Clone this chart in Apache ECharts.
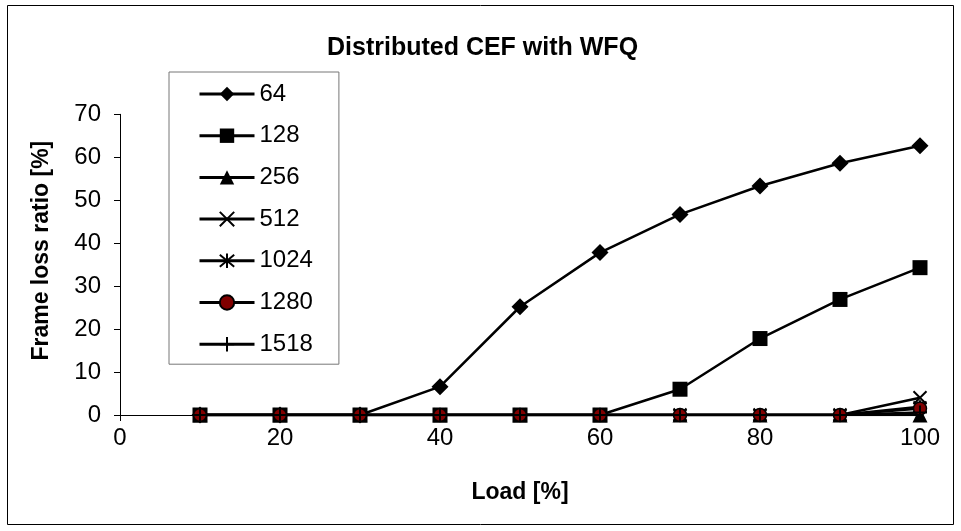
<!DOCTYPE html>
<html>
<head>
<meta charset="utf-8">
<script src="https://cdn.jsdelivr.net/npm/echarts@6/dist/echarts.min.js"></script>
<style>
  html, body { margin: 0; padding: 0; background: #fff; }
  #chart { width: 961px; height: 531px; }
</style>
</head>
<body>
<div id="chart"></div>
<script>
// Offered load [%]
var loads = [10, 20, 30, 40, 50, 60, 70, 80, 90, 100];

// Frame loss ratio [%] per frame size (bytes)
var loss64   = [0, 0, 0, 6.6, 25.2, 37.8, 46.7, 53.3, 58.6, 62.7];
var loss128  = [0, 0, 0, 0, 0, 0, 6.0, 17.8, 26.9, 34.3];
var loss256  = [0, 0, 0, 0, 0, 0, 0, 0, 0, 0];
var loss512  = [0, 0, 0, 0, 0, 0, 0, 0, 0, 4.0];
var loss1024 = [0, 0, 0, 0, 0, 0, 0, 0, 0, 1.9];
var loss1280 = [0, 0, 0, 0, 0, 0, 0, 0, 0, 1.5];
var loss1518 = [0, 0, 0, 0, 0, 0, 0, 0, 0, 0.6];

var sizeNames = ['64', '128', '256', '512', '1024', '1280', '1518'];

var FONT = 'Liberation Sans, Arial, sans-serif';

function pairs(vals) {
  return loads.map(function (x, i) { return [x, vals[i]]; });
}

function lineSeries(name, vals, symbol, size, fill, border) {
  return {
    name: name,
    type: 'line',
    data: pairs(vals),
    symbol: symbol,
    symbolSize: size,
    showAllSymbol: true,
    animation: false,
    lineStyle: { color: '#000', width: 2.5 },
    itemStyle: {
      color: fill,
      borderColor: '#000',
      borderWidth: border
    },
    emphasis: { disabled: true }
  };
}

var chart = echarts.init(document.getElementById('chart'), null, { renderer: 'canvas' });

chart.setOption({
  backgroundColor: '#fff',
  animation: false,
  title: {
    text: 'Distributed CEF with WFQ',
    left: 322,
    top: 31,
    textStyle: { fontFamily: FONT, fontSize: 25, fontWeight: 'bold', color: '#000' }
  },
  legend: {
    orient: 'vertical',
    left: 169,
    top: 72,
    padding: [10, 26, 8, 29],
    itemWidth: 55,
    itemHeight: 18,
    itemGap: 17.7,
    borderColor: '#777',
    borderWidth: 1,
    backgroundColor: '#fff',
    data: sizeNames,
    lineStyle: { color: '#000', width: 3, inactiveWidth: 3 },
    textStyle: { fontFamily: FONT, fontSize: 24, color: '#000', lineHeight: 24, padding: [0, 0, 0, 0] },
    selectedMode: false
  },
  grid: { left: 120, right: 41, top: 114.3, bottom: 116 },
  xAxis: {
    type: 'value',
    min: 0,
    max: 100,
    interval: 20,
    name: 'Load [%]',
    nameLocation: 'middle',
    nameGap: 66,
    nameTextStyle: { fontFamily: FONT, fontSize: 23, fontWeight: 'bold', color: '#000' },
    axisLine: { show: true, lineStyle: { color: '#000', width: 1 } },
    axisTick: { show: true, inside: false, length: 6, lineStyle: { color: '#000' } },
    axisLabel: { fontFamily: FONT, fontSize: 24, color: '#000', margin: 11 },
    splitLine: { show: false }
  },
  yAxis: {
    type: 'value',
    min: 0,
    max: 70,
    interval: 10,
    name: 'Frame loss ratio [%]',
    nameLocation: 'middle',
    nameGap: 67,
    nameTextStyle: { fontFamily: FONT, fontSize: 23, fontWeight: 'bold', color: '#000', padding: [0, 0, 0, 28] },
    axisLine: { show: true, lineStyle: { color: '#000', width: 1 } },
    axisTick: { show: true, inside: false, length: 6, lineStyle: { color: '#000' } },
    axisLabel: { fontFamily: FONT, fontSize: 24, color: '#000', margin: 19 },
    splitLine: { show: false }
  },
  graphic: [{
    type: 'rect',
    shape: { x: 7.5, y: 5.5, width: 946, height: 519 },
    style: { fill: 'none', stroke: '#000', lineWidth: 1 },
    silent: true,
    z: -10
  }],
  series: [
    lineSeries('64', loss64, 'diamond', 17, '#000', 0),
    lineSeries('128', loss128, 'rect', 15, '#000', 0),
    lineSeries('256', loss256, 'triangle', 15, '#000', 0),
    lineSeries('512', loss512, 'path://M0,0L10,10M10,0L0,10', 13, '#000', 2),
    lineSeries('1024', loss1024, 'path://M0,0L10,10M10,0L0,10M5,-1L5,11', 13, '#000', 2),
    lineSeries('1280', loss1280, 'circle', 13, '#800000', 1.5),
    lineSeries('1518', loss1518, 'path://M5,0L5,10M0,5L10,5', 14, '#000', 2)
  ]
});
</script>
</body>
</html>
